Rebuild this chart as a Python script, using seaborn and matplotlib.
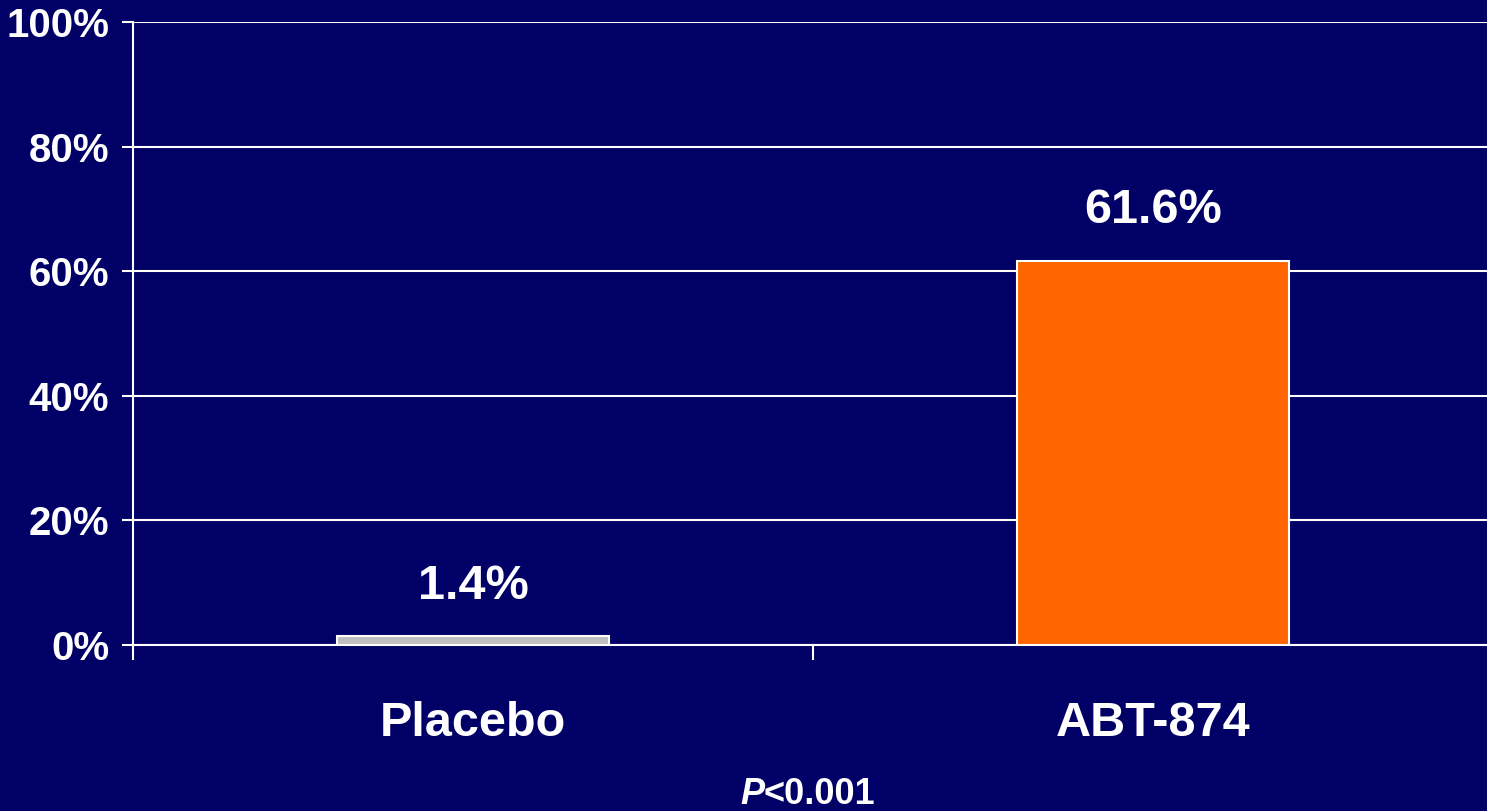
import matplotlib
matplotlib.use("Agg")
import matplotlib.pyplot as plt
import seaborn as sns
import pandas as pd

categories = ["Placebo", "ABT-874"]
values = [1.4, 61.6]
value_labels = ["1.4%", "61.6%"]
ytick_vals = [0, 20, 40, 60, 80, 100]
ytick_labels = ["0%", "20%", "40%", "60%", "80%", "100%"]
bar_colors = ["#C0C0C0", "#FF6600"]
bg = "#000066"

sns.set_theme(style="white")
plt.rcParams['font.family'] = ['Liberation Sans', 'DejaVu Sans']

fig = plt.figure(figsize=(14.87, 8.11), dpi=100, facecolor=bg)
ax = fig.add_axes([133/1487, 1 - 645/811, (1493 - 133)/1487, (645 - 22)/811])
ax.set_facecolor(bg)

df = pd.DataFrame({"cat": categories, "val": values})
sns.barplot(data=df, x="cat", y="val", hue="cat", palette=bar_colors, width=0.4, saturation=1,
            edgecolor="white", linewidth=1.5, legend=False, ax=ax, zorder=3)

ax.set_ylim(0, 100)
ax.set_xlim(-0.5, 1.5)
ax.set_yticks(ytick_vals)
ax.set_yticklabels(ytick_labels)
ax.yaxis.grid(True, color="white", linewidth=1.5)
ax.set_axisbelow(True)

ax.set_xticks([-0.5, 0.5])
ax.set_xticklabels(["", ""])
ax.set_xticks([0, 1], minor=True)
ax.set_xticklabels(categories, minor=True)
ax.tick_params(axis="x", which="major", direction="out", length=11, width=1.5, color="white", bottom=True)
ax.tick_params(axis="x", which="minor", length=0, pad=40, labelsize=35, labelcolor="white")
ax.tick_params(axis="y", direction="out", length=8, width=1.5, color="white", left=True,
               pad=9, labelsize=29, labelcolor="white")
for lbl in ax.get_xticklabels(minor=True) + ax.get_yticklabels():
    lbl.set_fontweight("bold")

ax.set_xlabel("")
ax.set_ylabel("")
for s in ["top", "right"]:
    ax.spines[s].set_visible(False)
for s in ["left", "bottom"]:
    ax.spines[s].set_color("white")
    ax.spines[s].set_linewidth(1.5)

for i, (v, t) in enumerate(zip(values, value_labels)):
    ax.annotate(t, (i, v), xytext=(0, 20), textcoords="offset points", ha="center", va="bottom",
                color="white", fontsize=35, fontweight="bold")

fig.text(764/1487, 1 - 804/811, "P", ha="right", va="baseline", color="white", fontsize=26,
         fontweight="bold", fontstyle="italic")
fig.text(764/1487, 1 - 804/811, "<0.001", ha="left", va="baseline", color="white", fontsize=26,
         fontweight="bold")

fig.savefig("out.png", dpi=100, facecolor=bg)
